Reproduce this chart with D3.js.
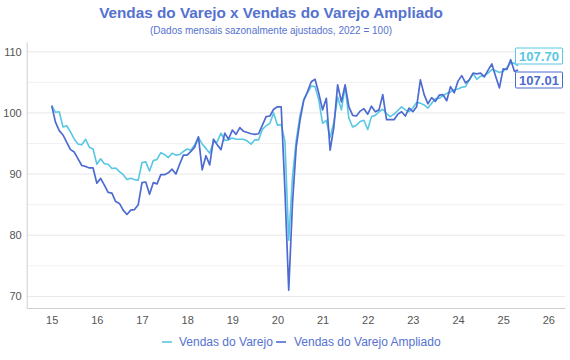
<!DOCTYPE html>
<html><head><meta charset="utf-8">
<script src="https://cdn.jsdelivr.net/npm/d3@7"></script>
<style>body{margin:0;background:#fff;font-family:"Liberation Sans",Arial,sans-serif}</style>
</head><body><svg id="c" width="570" height="360"></svg>
<script>
const title = "Vendas do Varejo x Vendas do Varejo Ampliado";
const subtitle = "(Dados mensais sazonalmente ajustados, 2022 = 100)";
const seriesNames = ["Vendas do Varejo", "Vendas do Varejo Ampliado"];
const startYear = 2015;
const yTicks = [70, 80, 90, 100, 110];
const yGrid = [70, 75, 80, 85, 90, 95, 100, 105, 110];
const xTickYears = [2015,2016,2017,2018,2019,2020,2021,2022,2023,2024,2025,2026];
// Jan 2015 .. May 2025, monthly
const varejo = [
 101.2,100.1,100.2,97.7,97.9,96.9,95.7,94.9,94.8,95.7,94.4,94.1,
 91.6,92.5,91.7,91.6,90.9,91.0,90.4,89.9,89.1,89.3,89.1,89.0,
 91.9,92.0,90.5,92.2,92.4,93.5,93.2,92.7,93.4,93.1,93.2,93.7,
 94.1,93.9,94.8,96.0,94.9,94.2,93.4,95.2,95.3,96.7,95.5,95.6,
 95.9,95.7,95.7,95.7,95.4,94.9,95.6,95.6,97.3,97.9,98.3,100.0,
 98.0,98.1,95.3,79.2,89.5,95.5,99.6,102.1,103.3,104.4,104.3,102.1,
 98.3,98.8,96.0,98.5,102.6,100.5,104.3,99.1,97.7,98.0,98.6,98.8,
 97.3,99.4,99.6,100.2,100.6,99.9,99.4,99.8,100.4,101.0,100.5,100.2,
 100.8,101.7,101.6,101.3,100.8,101.6,102.3,102.4,102.8,103.2,103.4,103.8,
 103.9,104.2,104.3,105.4,106.4,105.5,106.0,106.1,106.5,107.1,106.9,106.6,
 106.8,107.4,108.2,108.1,107.70
];
const ampliado = [
 101.2,98.5,97.1,96.4,95.2,94.0,93.6,92.5,91.4,91.25,91.0,91.0,
 88.5,89.3,88.2,87.0,86.9,85.5,85.2,84.1,83.4,84.1,84.2,85.0,
 88.6,88.7,86.7,88.6,88.4,89.9,89.9,90.2,90.8,90.0,91.6,93.1,
 93.1,93.7,94.4,96.1,90.7,93.0,91.5,95.7,94.8,94.0,96.7,95.7,
 97.2,96.5,97.6,97.0,96.8,96.6,96.5,96.6,98.0,99.4,99.5,100.6,
 101.0,101.0,87.3,71.0,85.2,94.5,98.8,102.1,103.5,105.1,105.5,103.2,
 100.5,102.4,93.9,97.7,104.6,101.8,104.6,101.0,99.6,99.5,100.3,100.7,
 99.8,101.1,100.2,100.5,103.0,98.9,98.9,98.9,99.8,100.2,99.5,100.8,
 100.2,101.0,105.4,103.0,101.5,102.5,101.9,102.9,103.0,102.0,104.3,103.3,
 105.2,106.1,104.9,105.4,106.5,106.4,106.5,105.9,107.0,108.0,106.0,104.1,
 107.2,107.1,108.7,106.8,107.01
];
const colors = ["#58c7e3", "#4d6bd0"];
const textBlue = "#5572cf";

const svg = d3.select("#c");
const mLeft = 26.7, mRight = 565, mTop = 42, mBottom = 308;
const x = d3.scaleLinear().domain([2014.446, 2026.37]).range([mLeft, mRight]);
const y = d3.scaleLinear().domain([68.1, 111.6]).range([mBottom, mTop]);
const t = i => startYear + i / 12;

// grid
svg.append("g").selectAll("line").data(yGrid).join("line")
  .attr("x1", mLeft).attr("x2", mRight)
  .attr("y1", d => y(d)).attr("y2", d => y(d))
  .attr("stroke", d => d % 10 === 0 ? "#e8e8e8" : "#f1f1f1").attr("stroke-width", 1);

// axes
const yAxis = d3.axisLeft(y).tickValues(yTicks).tickSize(0).tickPadding(5);
const gy = svg.append("g").attr("transform", `translate(${mLeft},0)`).call(yAxis);
gy.select(".domain").attr("stroke", "#cfcfcf");
gy.selectAll("text").attr("font-size", 11).attr("fill", "#555").attr("font-family", "Liberation Sans, Arial, sans-serif");

const xAxis = d3.axisBottom(x).tickValues(xTickYears).tickSize(0).tickPadding(8)
  .tickFormat(d => String(d % 100));
const gx = svg.append("g").attr("transform", `translate(0,${mBottom})`).call(xAxis);
gx.select(".domain").attr("stroke", "#cfcfcf");
gx.selectAll("text").attr("font-size", 11).attr("fill", "#555").attr("font-family", "Liberation Sans, Arial, sans-serif");

// lines
const line = d3.line().x((d, i) => x(t(i))).y(d => y(d));
[varejo, ampliado].forEach((s, k) => {
  svg.append("path").datum(s).attr("d", line).attr("fill", "none")
    .attr("stroke", colors[k]).attr("stroke-width", k === 0 ? 1.6 : 1.7)
    .attr("stroke-linejoin", "round");
});

// end labels
const labelY = [56, 80];
[varejo, ampliado].forEach((s, k) => {
  const v = s[s.length - 1];
  const g = svg.append("g");
  g.append("rect").attr("x", 515.5).attr("y", labelY[k] - 8).attr("width", 47).attr("height", 16)
    .attr("fill", "#fff").attr("stroke", colors[k]).attr("stroke-width", 1).attr("rx", 1);
  g.append("text").attr("x", 539).attr("y", labelY[k] + 4.5).attr("text-anchor", "middle")
    .attr("font-size", 13).attr("font-weight", "bold").attr("fill", colors[k])
    .text(v.toFixed(2));
});

// title
svg.append("text").attr("x", 271).attr("y", 18).attr("text-anchor", "middle")
  .attr("font-size", 15.3).attr("font-weight", "bold").attr("fill", textBlue).text(title);
svg.append("text").attr("x", 271).attr("y", 34).attr("text-anchor", "middle")
  .attr("font-size", 10).attr("fill", textBlue).text(subtitle);

// legend
const lg = svg.append("g");
const items = [{x: 162, tx: 179}, {x: 276, tx: 294}];
items.forEach((it, k) => {
  lg.append("line").attr("x1", it.x).attr("x2", it.x + 10).attr("y1", 342).attr("y2", 342)
    .attr("stroke", colors[k]).attr("stroke-width", 1.6);
  lg.append("text").attr("x", it.tx).attr("y", 346).attr("font-size", 12).attr("fill", textBlue)
    .text(seriesNames[k]);
});
</script></body></html>
